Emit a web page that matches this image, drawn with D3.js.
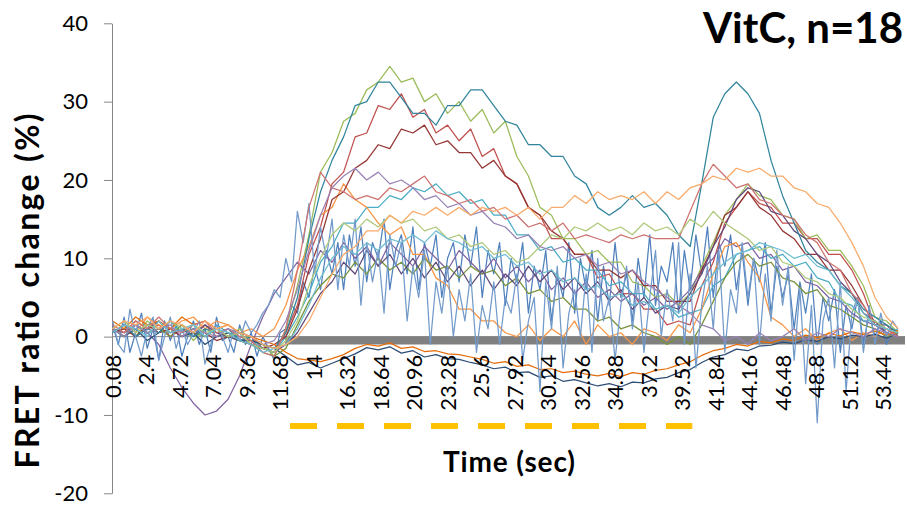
<!DOCTYPE html>
<html>
<head>
<meta charset="utf-8">
<script src="https://cdn.jsdelivr.net/npm/d3@7"></script>
<style>
  body { margin: 0; background: #fff; }
  svg { display: block; font-family: Lato, "Open Sans", sans-serif; }
</style>
</head>
<body>
<div id="chart"></div>
<script>
const width = 907;
const height = 505;

// sample times (sec), one value per 0.8 s
const times = [0.08, 0.88, 1.68, 2.48, 3.28, 4.08, 4.88, 5.68, 6.48, 7.28, 8.08, 8.88, 9.68, 10.48, 11.28,
  12.08, 12.88, 13.68, 14.48, 15.28, 16.08, 16.88, 17.68, 18.48, 19.28, 20.08, 20.88, 21.68, 22.48, 23.28,
  24.08, 24.88, 25.68, 26.48, 27.28, 28.08, 28.88, 29.68, 30.48, 31.28, 32.08, 32.88, 33.68, 34.48, 35.28,
  36.08, 36.88, 37.68, 38.48, 39.28, 40.08, 40.88, 41.68, 42.48, 43.28, 44.08, 44.88, 45.68, 46.48, 47.28,
  48.08, 48.88, 49.68, 50.48, 51.28, 52.08, 52.88, 53.68, 54.48];

// finer sampling (0.4 s) for the two very noisy cells
const fineTimes = [
  0.08, 0.48, 0.88, 1.28, 1.68, 2.08, 2.48, 2.88, 3.28, 3.68,
  4.08, 4.48, 4.88, 5.28, 5.68, 6.08, 6.48, 6.88, 7.28, 7.68,
  8.08, 8.48, 8.88, 9.28, 9.68, 10.08, 10.48, 10.88, 11.28, 11.68,
  12.08, 12.48, 12.88, 13.28, 13.68, 14.08, 14.48, 14.88, 15.28, 15.68,
  16.08, 16.48, 16.88, 17.28, 17.68, 18.08, 18.48, 18.88, 19.28, 19.68,
  20.08, 20.48, 20.88, 21.28, 21.68, 22.08, 22.48, 22.88, 23.28, 23.68,
  24.08, 24.48, 24.88, 25.28, 25.68, 26.08, 26.48, 26.88, 27.28, 27.68,
  28.08, 28.48, 28.88, 29.28, 29.68, 30.08, 30.48, 30.88, 31.28, 31.68,
  32.08, 32.48, 32.88, 33.28, 33.68, 34.08, 34.48, 34.88, 35.28, 35.68,
  36.08, 36.48, 36.88, 37.28, 37.68, 38.08, 38.48, 38.88, 39.28, 39.68,
  40.08, 40.48, 40.88, 41.28, 41.68, 42.08, 42.48, 42.88, 43.28, 43.68,
  44.08, 44.48, 44.88, 45.28, 45.68, 46.08, 46.48, 46.88, 47.28, 47.68,
  48.08, 48.48, 48.88, 49.28, 49.68, 50.08, 50.48, 50.88, 51.28, 51.68,
  52.08, 52.48, 52.88, 53.28, 53.68, 54.08, 54.48];

// FRET ratio change (%) of the 18 cells
const blue = [
  1.5, -1, 2.5, -2, 0.5, 3, -1.5, 1, -3, 2,
  -0.5, 1.5, -2.5, 0, 2, -1, 1, -2, 2.5, -0.5,
  0, -2, 1.5, -1, 0.5, -2.5, 0, -1.5, -3, 0.5,
  1, 4, 3, 7, 5, 9, 6, 11, 8, 12,
  6, 13, 9, 14, 7, 12, 10, 15, 6, 11,
  13, 8, 14, 6, 12, 9, 13, 5, 10, 12,
  7, 13, 9, 14, 5, 11, 8, 12, 4, 10,
  7, 12, 3, 9, 6, 11, 2, 8, 5, 12,
  3, 10, 6, 11, 2, 9, 4, 12, 5, 8,
  2, 10, 5, 13, 4, 9, 7, 12, 3, 11,
  6, 13, 8, 14, 5, 12, 9, 13, 6, 11,
  4, 10, 7, 12, 3, 9, 5, 8, 1, 7,
  3, 8, -1, 5, 2, 6, -2, 4, 1, 5,
  -1, 3, 0, 2, -1, 1, 0];
const lightBlue = [
  2, -1, -2, 3.5, 0, -2.5, 1, 2.5, -3, 0,
  2.5, -1.5, 1, -1, 0.5, 2, -3.5, -1, 1.5, 0,
  -2, 1, -0.5, 2, 0.5, 1.5, 3, 4, 6, 5,
  10, 7, 16, 12, 17, 8, 14, 10, 15, 6,
  13, 9, 15, 4, 12, 7, 11, 3, 13, 9,
  12, 2, 9, 5, 11, -1, 7, 3, 9, 0,
  6, 2, 8, -2, 4, 1, 7, -1, 5, 3,
  8, -3, 2, 5, -7, 7, 1, 9, -4, 3,
  6, 0, 8, -2, 10, 2, 5, -3, 4, 9,
  1, 7, -2, 5, 11, 0, 6, 2, 12, -1,
  8, -4, 4, 9, 1, 11, -2, 6, 3, 12,
  5, 10, -1, 8, 2, 11, 4, 9, -3, 6,
  -6, 4, -11, 2, 5, -4, 7, -7, 3, 5,
  -2, 4, -1, 3, 0, 2, 1];
const red = [1, 0.5, 2, 1, 1.5, 0, 1, 0.5, 1.5, 0, 0.5, -0.5, 0, -1.5, -2,
  0.5, 4, 10.5, 14, 19.5, 21, 25.5, 26, 29.5, 29, 31, 28, 29, 26, 27, 25, 26.5, 23, 24, 20.5,
  19.5, 16.5, 15.5, 12.5, 12.5, 10.5, 10.5, 7.5, 8, 5.5, 5.5, 3.5, 3.5, 1.5, 2, 1.5, 6.5, 9.5, 14.5, 16.5,
  18.5, 17, 16.5, 14.5, 14.5, 12.5, 12.5, 10.5, 10.5, 8.5, 5.5, 1.5, 1, 0];
const green = [0.5, 1.5, 0, 2, 1, 0.5, 1.5, -0.5, 1, 0.5, 0, 1, -0.5, -1, -2.5,
  1, 6.5, 13, 21, 23.5, 27.5, 28.5, 31.5, 32.5, 34.5, 32.5, 33, 30, 31, 28.5, 30, 27.5, 29, 26, 27.5,
  23, 20.5, 16.5, 15.5, 12.5, 12.5, 10.5, 11, 9.5, 9.5, 7, 6.5, 5, 5.5, 4, 5.5, 9, 12, 15.5, 17.5,
  19.5, 18, 17.5, 15.5, 15, 12.5, 13, 11, 11, 9, 6.5, 2.5, 2, 0.5];
const purple = [1, 0.5, 1.5, 0.5, -1, -4, -6.5, -8.5, -10, -9.5, -8, -5, -1, 2.5, 5.5,
  7.5, 9.5, 8, 11, 9.5, 12, 10, 11.5, 9, 12, 10.5, 9, 11.5, 10, 8.5, 11, 9.5, 8, 10, 7.5,
  9, 7, 8.5, 6, 7.5, 5.5, 7, 5, 6, 4.5, 5.5, 4, 5, 3.5, 4.5, 6, 8.5, 10, 12.5, 11.5,
  12, 10, 10.5, 8.5, 9, 7, 6.5, 5, 4.5, 3, 2, 1.5, 0.5, 0];
const aqua = [1, 0, 1.5, 0.5, 1, 2, 0.5, 1, 0, 1.5, 0.5, 0, -0.5, -1.5, -2,
  0, 2.5, 5.5, 9.5, 11.5, 14.5, 14.5, 16.5, 16.5, 18, 17.5, 19, 18.5, 19.5, 18, 18.5, 17, 17.5, 15.5, 15.5,
  13, 13, 11, 11.5, 9.5, 10, 8.5, 8.5, 6.5, 7, 5.5, 5.5, 3.5, 4, 2.5, 3, 3.5, 6.5, 7.5, 10.5,
  11, 11.5, 10, 10.5, 9, 9.5, 7.5, 7, 4.5, 4, 2, 2, 0.5, 1];
const orange = [1, 2, 0.5, 2.5, 1.5, 1, 2, 2.5, 1, 2, 1.5, 0.5, 1, 0, 1,
  4, 8.5, 11.5, 15.5, 16.5, 19.5, 17.5, 16.5, 14.5, 13, 14, 10.5, 10.5, 7.5, 6.5, 3.5, 3.5, 2, 2, 0.5,
  0, 1.5, -0.5, 1, 0, 2, -1, 1.5, 0, 0.5, -1, 1, 0.5, -0.5, 1.5, 0.5, 3.5, 8, 11.5, 12,
  9.5, 7.5, 2.5, 1.5, 0, 1, -0.5, 0.5, 1, -0.5, 0.5, 0, 1, 0];
const navy = [1, 0, 1, -0.5, 0.5, 1, 0, 0.5, -1, 0, 0.5, -0.5, -0.5, -1, -1.5,
  -2.5, -3.6, -3.3, -4, -3.4, -2.8, -2.2, -1.4, -1.7, -1.3, -2.1, -1.8, -2.6, -2.3, -2.8, -2.9, -3.3, -3.6, -4.1, -3.9,
  -4.6, -4.5, -5.2, -5, -5.7, -5.5, -5.9, -6.3, -6, -6.4, -5.8, -5.9, -5.4, -5.2, -4.6, -4.2, -3.3, -2.6, -2.3, -1.6,
  -1.8, -1.2, -1.1, -0.7, -0.9, -0.4, -0.6, 0, -0.3, 0.2, 0, 0.3, -0.2, 0.4];
const darkRed = [0.5, 1, 0, 1.5, 0.5, 1, 0, 1, 0.5, -0.5, 0, 0.5, -1, -1.5, -1,
  0, 3.5, 8.5, 12.5, 17.5, 18.5, 21.5, 22.5, 24.5, 24, 26.5, 26, 27, 24.5, 25, 23.5, 23.5, 21.5, 22.5, 20.5,
  19.5, 16.5, 15.5, 13.5, 12.5, 10.5, 10.5, 8.5, 8.5, 7.5, 8.5, 6.5, 6.5, 4.5, 4.5, 4.5, 8.5, 11.5, 15.5, 16.5,
  18.5, 16.5, 15.5, 13.5, 12.5, 10.5, 10.5, 8.5, 8.5, 6.5, 4, 1.5, 1.5, 0];
const olive = [1, 0, 1.5, 0.5, 1, 0, 1.5, 0.5, 0, 1, 0, -0.5, -1, -2, -2.5,
  -1.5, 1.5, 4.5, 6.5, 8, 7.5, 9.5, 8, 10, 8.5, 9.5, 8, 10, 8.5, 9, 7.5, 9, 8, 8.5, 6.5,
  7.5, 5.5, 6, 4.5, 5, 3.5, 3.5, 2, 2.5, 1, 1.5, 0.5, 0, -1, 0, -1, 1.5, 4.5, 7.5, 9.5,
  10.5, 9, 9.5, 7.5, 7, 5.5, 6, 4, 3.5, 2.5, 1.5, 1, 0, 0.5];
const darkPurple = [0.5, 1.5, 0, 1, 2, 0.5, 1, 0, 1.5, 0.5, 0, -0.5, -1, -1.5, -2,
  -1, 0.5, 3, 5.5, 7, 9.5, 8, 11, 9, 10.5, 8, 10, 7.5, 9.5, 7, 9, 6.5, 8.5, 6, 8,
  6.5, 9, 7, 8.5, 6, 7.5, 5.5, 7, 4.5, 6, 3.5, 5, 3, 4, 3.5, 5.5, 8, 11.5, 14, 17.5,
  19, 18.5, 16, 15.5, 13.5, 12.5, 10.5, 9.5, 7, 5.5, 3, 2, 0.5, 0];
const teal = [0.5, 1.5, 0, 1, 0.5, 2, 1, 0, 1, 0.5, 1, -0.5, 0, -1, -1.5,
  0.5, 5, 12.5, 18.5, 22.5, 25.5, 29.5, 30, 32.5, 32.5, 30.5, 28.5, 28.5, 27, 29.5, 29.5, 31.5, 31.5, 29.5, 27.5,
  27, 24.5, 24.5, 23, 23, 20.5, 19.5, 16.5, 15.5, 16.5, 18, 16.5, 17, 15.5, 13, 11.5, 19.5, 28, 31, 32.5,
  31, 28.5, 22.5, 18, 14.5, 11, 9.5, 8.5, 6.5, 5.5, 3.5, 2.5, 1.5, 0.5];
const darkOrange = [2, 1, 2.5, 1.5, 2, 1, 2.5, 1.5, 2, 1, 1.5, 0.5, 0, -0.5, -1,
  -2, -2.8, -3, -3.2, -2.8, -2.3, -1.5, -1, -1.2, -0.8, -1.5, -1.3, -1.9, -1.8, -2.2, -2.3, -2.6, -2.9, -3.4, -3.2,
  -3.8, -3.6, -4.2, -4.1, -4.6, -4.4, -4.8, -5, -4.7, -5.1, -4.6, -4.8, -4.3, -4.1, -3.6, -3.2, -2.4, -1.8, -1.5, -1,
  -1.2, -0.6, -0.8, -0.3, -0.5, 0.2, -0.1, 0.4, 0.1, 0.6, 0.3, 0.7, 0.2, 0.8];
const lightRed = [1.5, 0.5, 2, 1, 2.5, 1, 0.5, 1.5, 2, 0.5, 1, 0, -0.5, -2, -2.5,
  1, 8.5, 16.5, 21, 19, 18.5, 17.5, 18, 17.5, 19, 18.5, 19.5, 20.5, 18.5, 18, 17, 17.5, 16, 16.5, 15,
  15.5, 14, 14.5, 13.5, 14.5, 12.5, 13, 12.5, 12, 13, 12.5, 13, 12.5, 12.5, 12.5, 16, 19.5, 22, 20.5, 19,
  19.5, 17.5, 17, 15.5, 15, 13, 12, 9.5, 8.5, 5.5, 4, 1.5, 1, 0];
const lightGreen = [1, 2, 0.5, 1.5, 1, 2, 1, 1.5, 0.5, 1, 0, 0.5, -1, -1.5, -2,
  -0.5, 2, 6.5, 10, 13, 14.5, 13.5, 15, 14, 15.5, 14.5, 15, 13.5, 14, 12.5, 13, 11.5, 12, 10.5, 11,
  9.5, 10, 11.5, 13, 12.5, 14, 13.5, 14.5, 13.5, 14, 13, 14.5, 13.5, 14, 13, 15, 14, 16, 14.5, 13.5,
  12.5, 11, 11.5, 9.5, 9, 7.5, 7, 5.5, 5, 3.5, 2.5, 2, 1, 0.5];
const lightPurple = [1, 0, 1.5, 0.5, 1, 1.5, 0, 1, 0.5, 0, 1, 0.5, 0, -1, -0.5,
  2, 6, 11, 15.5, 19, 20.5, 21.5, 20, 21, 19.5, 20, 19, 17.5, 18, 16.5, 17, 15.5, 16, 14.5, 14,
  12.5, 13, 11.5, 11, 11.5, 10, 10.5, 9, 9.5, 8, 8.5, 7, 6, 5, 4, 3, 1.5, 1, -0.5, 0,
  -1, 0.5, -0.5, 0, 1, -0.5, 0.5, 0, 1, 0.5, 0, 1, 0.5, 0];
const lightAqua = [0.5, 1.5, 1, 0, 2, 0.5, 1, 1.5, 0, 1, 0.5, -0.5, -1, -2, -1.5,
  -1, 1, 4, 7.5, 10, 11.5, 10.5, 12, 11, 12.5, 12, 13, 12, 13.5, 12.5, 12, 11, 11.5, 10, 10.5,
  9, 9.5, 8, 8.5, 7, 7.5, 6, 6.5, 5, 5.5, 4, 4.5, 3.5, 4, 3, 5, 6.5, 8, 9.5, 10.5,
  11, 12, 11.5, 11, 10, 10.5, 9, 8.5, 6.5, 5, 3, 1.5, 1, 0.5];
const lightOrange = [1, 2, 1.5, 2.5, 1, 2, 1.5, 0.5, 2, 1, 1.5, 0.5, 0, -1, -1.5,
  -1, 0, 2, 5, 8, 10.5, 11.5, 13.5, 13.5, 15.5, 14.5, 16, 15.5, 16.5, 15.5, 16.5, 15.5, 16.5, 16, 16.5,
  15.5, 16.5, 15, 16.5, 16.5, 18, 17, 18.5, 17.5, 18, 17.5, 18.5, 17, 18.5, 17.5, 19, 19.5, 20.5, 20, 21.5,
  21, 21.5, 20.5, 20.5, 19, 18.5, 17, 16.5, 14.5, 12, 9, 5, 2.5, 1];

// stimulus markers
const stimTimes = [12.03, 54.96];
const stimValues = [-0.5, -0.5];
const pulseTimes = [12.37, 40.23];
const pulseValues = [-11.4, -11.4];

const xTickLabels = ["0.08", "2.4", "4.72", "7.04", "9.36", "11.68", "14", "16.32", "18.64", "20.96",
  "23.28", "25.6", "27.92", "30.24", "32.56", "34.88", "37.2", "39.52", "41.84", "44.16", "46.48",
  "48.8", "51.12", "53.44"];
const yTicks = [-20, -10, 0, 10, 20, 30, 40];

const series = [
  { values: blue, times: fineTimes, color: "#4F81BD" },
  { values: red, times: times, color: "#C0504D" },
  { values: green, times: times, color: "#9BBB59" },
  { values: purple, times: times, color: "#8064A2" },
  { values: aqua, times: times, color: "#4BACC6" },
  { values: orange, times: times, color: "#F79646" },
  { values: navy, times: times, color: "#2C4D75" },
  { values: darkRed, times: times, color: "#953735" },
  { values: olive, times: times, color: "#77933C" },
  { values: darkPurple, times: times, color: "#5F497A" },
  { values: teal, times: times, color: "#31859C" },
  { values: darkOrange, times: times, color: "#E46C0A" },
  { values: lightBlue, times: fineTimes, color: "#729ACA" },
  { values: lightRed, times: times, color: "#CD7371" },
  { values: lightGreen, times: times, color: "#AFC97A" },
  { values: lightPurple, times: times, color: "#9983B5" },
  { values: lightAqua, times: times, color: "#6FBDD1" },
  { values: lightOrange, times: times, color: "#F9AB6B" }
];

const x = d3.scaleLinear([0.04, 54.96], [112, 905]);
const y = d3.scaleLinear([-20, 40], [493.3, 23.3]);

const svg = d3.select("#chart").append("svg")
  .attr("width", width)
  .attr("height", height);

const yAxis = selection => {
  let g = selection.append("g")
    .attr("transform", `translate(${x.range()[0]},0)`)
    .call(d3.axisLeft(y).tickValues(yTicks).tickFormat(d => String(d))
      .tickSize(8).tickSizeOuter(0).tickPadding(16));
  g.select(".domain").attr("stroke", "#868686");
  g.selectAll(".tick line").attr("stroke", "#868686");
  g.selectAll(".tick text")
    .attr("fill", "#000")
    .style("font-size", "22px")
    .style("font-family", "Lato, sans-serif");
}

const stimLine = selection => {
  let line = d3.line().x(d => x(d[0])).y(d => y(d[1]));
  selection.append("path")
    .attr("d", line(d3.zip(stimTimes, stimValues)))
    .attr("stroke", "#808080")
    .attr("stroke-width", 8)
    .attr("fill", "none");
  selection.append("path")
    .attr("d", line(d3.zip(pulseTimes, pulseValues)))
    .attr("stroke", "#FFC000")
    .attr("stroke-width", 6)
    .attr("stroke-dasharray", "27 20")
    .attr("fill", "none");
}

const lines = selection => {
  selection.selectAll(".cell")
    .data(series)
    .join("path")
    .attr("class", "cell")
    .attr("fill", "none")
    .attr("stroke", d => d.color)
    .attr("stroke-width", 1.25)
    .attr("stroke-linejoin", "round")
    .attr("d", d => d3.line()
      .x((v, i) => x(d.times[i]))
      .y(v => y(v))(d.values));
}

const xAxis = selection => {
  let g = selection.append("g")
    .attr("transform", `translate(0,${y(0)})`)
    .call(d3.axisBottom(x).tickValues(xTickLabels.map(Number))
      .tickFormat((d, i) => xTickLabels[i]).tickSize(0).tickSizeOuter(0));
  g.select(".domain").attr("stroke", "none");
  g.selectAll(".tick text")
    .attr("fill", "#000")
    .attr("transform", "rotate(-90)")
    .attr("x", -18)
    .attr("y", 0)
    .attr("dy", "0.36em")
    .style("text-anchor", "end")
    .style("font-size", "22px")
    .style("font-family", "Lato, sans-serif");
}

svg.call(yAxis);
svg.append("line")
  .attr("x1", x.range()[0]).attr("x2", x.range()[1])
  .attr("y1", y(0)).attr("y2", y(0))
  .attr("stroke", "#868686");
svg.append("g").call(stimLine);
svg.append("g").call(lines);
svg.call(xAxis);

svg.append("text")
  .attr("x", 903)
  .attr("y", 43)
  .attr("text-anchor", "end")
  .style("font-weight", "bold")
  .style("font-size", "42px")
  .text("VitC, n=18");

svg.append("text")
  .attr("x", 509)
  .attr("y", 472)
  .attr("text-anchor", "middle")
  .attr("textLength", 132)
  .style("font-weight", "bold")
  .style("font-size", "28px")
  .text("Time (sec)");

svg.append("text")
  .attr("transform", "translate(39,291) rotate(-90)")
  .attr("text-anchor", "middle")
  .attr("textLength", 355)
  .style("font-weight", "bold")
  .style("font-size", "32px")
  .text("FRET ratio change (%)");
</script>
</body>
</html>
